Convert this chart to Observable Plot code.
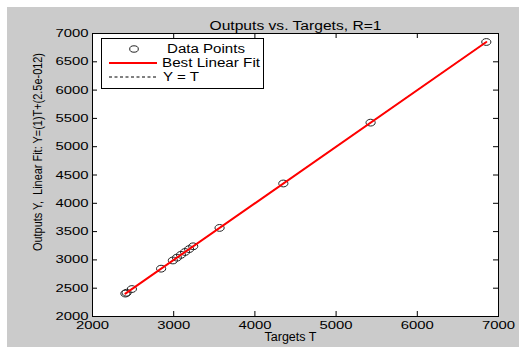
<!DOCTYPE html>
<html><head><meta charset="utf-8">
<script src="https://cdn.jsdelivr.net/npm/d3@7"></script>
<script src="https://cdn.jsdelivr.net/npm/@observablehq/plot@0.6"></script>
<style>
html,body{margin:0;padding:0;background:#fff}
body{width:519px;height:347px;overflow:hidden;position:relative;font-family:"Liberation Sans",Arial,sans-serif}
#bg{position:absolute;left:7px;top:7px;width:512px;height:340px;background:#cbcbcb}
#chart{position:absolute;left:0;top:0}
#legend{position:absolute;left:101px;top:38px}
</style></head><body>
<div id="bg"></div><div id="chart"></div><div id="legend"></div>
<script>
const title = "Outputs vs. Targets, R=1";
const xLabel = "Targets T";
const yLabel = "Outputs Y,  Linear Fit: Y=(1)T+(2.5e-012)";
const targets = [2405, 2420, 2485, 2845, 2990, 3040, 3090, 3140, 3190, 3240, 3565, 4350, 5425, 6850];
const outputs = [2405, 2420, 2485, 2845, 2990, 3040, 3090, 3140, 3190, 3240, 3565, 4350, 5425, 6850];
const xTicks = [2000, 3000, 4000, 5000, 6000, 7000];
const yTicks = [2000, 2500, 3000, 3500, 4000, 4500, 5000, 5500, 6000, 6500, 7000];
const legendLabels = ["Data Points", "Best Linear Fit", "Y = T"];
const fitSlope = 1, fitIntercept = 2.5e-12;

const points = targets.map((t, i) => ({t, y: outputs[i]}));
const tMin = d3.min(targets), tMax = d3.max(targets);
const fitLine = [tMin, tMax].map(t => ({t, y: fitSlope * t + fitIntercept}));
const idLine = [tMin, tMax].map(t => ({t, y: t}));

const W = 519, H = 347, mL = 92, mT = 33, mR = 21, mB = 31;
const fw = W - mL - mR, fh = H - mT - mB;

const ellipse = {draw(ctx) {
  const rx = 4.6, ry = 3.4, k = 0.5523;
  ctx.moveTo(rx, 0);
  ctx.bezierCurveTo(rx, ry * k, rx * k, ry, 0, ry);
  ctx.bezierCurveTo(-rx * k, ry, -rx, ry * k, -rx, 0);
  ctx.bezierCurveTo(-rx, -ry * k, -rx * k, -ry, 0, -ry);
  ctx.bezierCurveTo(rx * k, -ry, rx, -ry * k, rx, 0);
  ctx.closePath();
}};

const font = "Liberation Sans, Arial, sans-serif";
const chart = Plot.plot({
  width: W, height: H,
  marginLeft: mL, marginTop: mT, marginRight: mR, marginBottom: mB,
  style: {background: "transparent", color: "black", fontFamily: font, fontSize: "11px"},
  x: {domain: [2000, 7000], ticks: xTicks},
  y: {domain: [2000, 7000], ticks: yTicks},
  marks: [
    Plot.frame({fill: "white"}),
    Plot.line(idLine, {x: "t", y: "y", stroke: "black", strokeWidth: 1, strokeDasharray: "3,2"}),
    Plot.dot(points, {x: "t", y: "y", symbol: ellipse, stroke: "#222", strokeWidth: 1, fill: "none"}),
    Plot.line(fitLine, {x: "t", y: "y", stroke: "#ff0000", strokeWidth: 2}),
    Plot.axisX({ticks: xTicks, tickSize: 0, tickPadding: 5, tickFormat: d => String(d), label: null, fontSize: 11}),
    Plot.axisY({ticks: yTicks, tickSize: 0, tickPadding: 4, tickFormat: d => String(d), label: null, fontSize: 11}),
    Plot.ruleX(xTicks, {x: d => d, insetTop: fh - 5, stroke: "black"}),
    Plot.ruleX(xTicks, {x: d => d, insetBottom: fh - 5, stroke: "black"}),
    Plot.ruleY(yTicks, {y: d => d, insetRight: fw - 5, stroke: "black"}),
    Plot.ruleY(yTicks, {y: d => d, insetLeft: fw - 5, stroke: "black"}),
    Plot.frame({stroke: "black", strokeWidth: 1}),
    Plot.text([title], {frameAnchor: "top", dy: -12, fontSize: 12.5, fill: "black"}),
    Plot.text([xLabel], {frameAnchor: "bottom", dy: 24, dx: -5, fontSize: 12, fill: "black"}),
    Plot.text([yLabel], {frameAnchor: "left", textAnchor: "middle", rotate: -90, dx: -54, dy: -23, fontSize: 12, fill: "black"})
  ]
});
document.getElementById("chart").appendChild(chart);

function stretchTo(node, len) {
  node.setAttribute("textLength", len);
  node.setAttribute("lengthAdjust", "spacingAndGlyphs");
}
function stretchBy(node, f) {
  stretchTo(node, node.getComputedTextLength() * f);
}
const svg = d3.select(chart);
svg.selectAll('g[aria-label="x-axis tick label"] text, g[aria-label="y-axis tick label"] text')
  .each(function() { stretchBy(this, 1.35); });
svg.selectAll('g[aria-label="text"] text').each(function() {
  const s = this.textContent;
  if (s === title) stretchTo(this, 172);
  else if (s === yLabel) stretchTo(this, 198);
  else if (s === xLabel) stretchTo(this, 52);
});

// legend
const lg = d3.select("#legend").append("svg").attr("width", 164).attr("height", 52)
  .style("font-family", font).style("font-size", "12px");
lg.append("rect").attr("x", 0.5).attr("y", 0.5).attr("width", 162).attr("height", 50)
  .attr("fill", "white").attr("stroke", "black");
const rows = [11, 25, 39];
lg.append("ellipse").attr("cx", 33).attr("cy", rows[0]).attr("rx", 4.3).attr("ry", 3.2)
  .attr("fill", "none").attr("stroke", "#222");
lg.append("line").attr("x1", 8).attr("x2", 56).attr("y1", rows[1]).attr("y2", rows[1])
  .attr("stroke", "#ff0000").attr("stroke-width", 2);
lg.append("line").attr("x1", 8).attr("x2", 56).attr("y1", rows[2]).attr("y2", rows[2])
  .attr("stroke", "black").attr("stroke-dasharray", "3,2.5");
const lx = [66, 61, 62];
const lw = [78, 98, 36];
legendLabels.forEach((s, i) => {
  const t = lg.append("text").attr("x", lx[i]).attr("y", rows[i]).attr("dy", "0.35em").text(s);
  stretchTo(t.node(), lw[i]);
});
</script>
</body></html>
